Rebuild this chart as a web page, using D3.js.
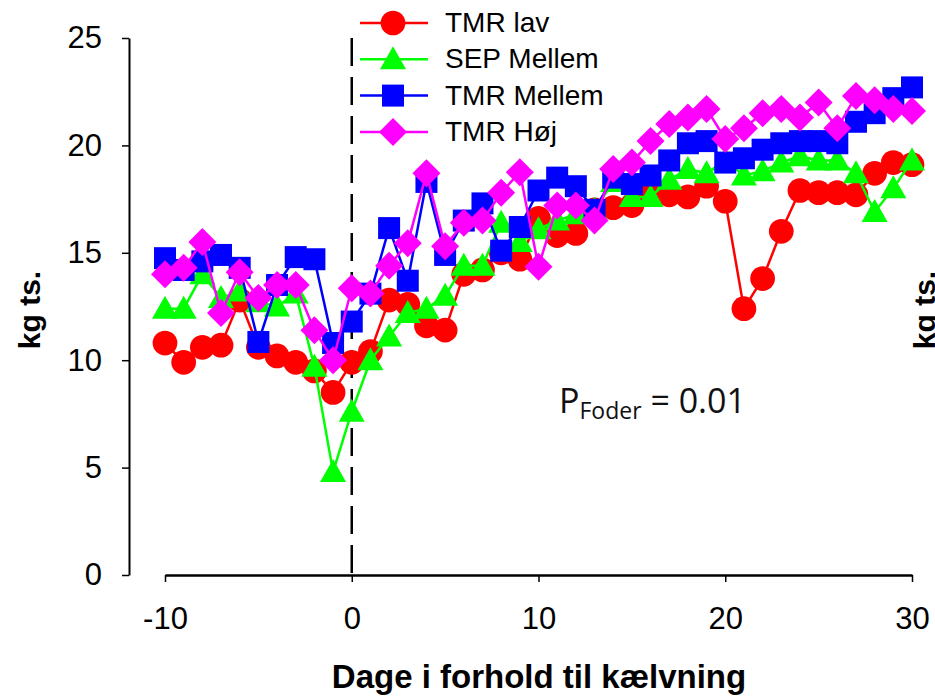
<!DOCTYPE html>
<html>
<head>
<meta charset="utf-8">
<script src="https://cdn.jsdelivr.net/npm/d3@7"></script>
<style>
  body { margin: 0; background: #fff; }
  svg { display: block; font-family: "Liberation Sans", Arial, sans-serif; }
  .axis path, .axis line { stroke: #000; }
</style>
</head>
<body>
<div id="chart"></div>
<script>
// days relative to calving
var days = d3.range(-10, 31);

var seriesNames = ["TMR lav", "SEP Mellem", "TMR Mellem", "TMR Høj"];
var seriesColors = ["#ff0000", "#00ff00", "#0000ff", "#ff00ff"];
var seriesMarkers = ["circle", "triangle", "square", "diamond"];

var tmrLav = [10.8, 9.9, 10.6, 10.7, 12.8, 10.6, 10.2, 9.9, 9.5, 8.5,
  9.9, 10.4, 12.8, 12.6, 11.6, 11.4, 14.0, 14.2, 15.0, 14.7,
  16.6, 15.8, 15.9, 17.0, 17.1, 17.2, 17.8, 17.7, 17.6, 18.1,
  17.4, 12.4, 13.8, 16.0, 17.9, 17.8, 17.8, 17.7, 18.7, 19.2, 19.1];

var sepMellem = [12.4, 12.4, 14.0, 12.9, 13.2, 12.7, 12.5, 13.1, 9.7, 4.8,
  7.6, 10.0, 11.1, 12.2, 12.4, 13.0, 14.4, 14.4, 16.4, 15.5,
  16.1, 16.5, 16.8, 17.0, 18.3, 17.6, 17.6, 18.4, 18.9, 18.7,
  19.3, 18.6, 18.8, 19.2, 19.5, 19.3, 19.3, 18.7, 16.9, 18.0, 19.3];

var tmrMellem = [14.75, 14.2, 14.6, 14.9, 14.3, 10.85, 13.5, 14.8, 14.7, 10.8,
  11.8, 13.1, 16.15, 13.7, 18.3, 14.9, 16.5, 17.3, 15.1, 16.2,
  17.9, 18.5, 18.1, 17.0, 18.5, 18.2, 18.6, 19.3, 20.1, 20.2,
  19.2, 19.4, 19.8, 20.1, 20.2, 20.2, 20.1, 21.1, 21.5, 22.2, 22.7];

var tmrHoej = [14.0, 14.3, 15.5, 12.2, 14.1, 12.9, 13.5, 13.5, 11.4, 10.0,
  13.35, 13.1, 14.4, 15.45, 18.7, 15.3, 16.4, 16.5, 17.8, 18.75,
  14.35, 17.2, 17.2, 16.5, 18.9, 19.2, 20.2, 21.0, 21.3, 21.7,
  20.3, 20.8, 21.5, 21.7, 21.3, 22.0, 20.8, 22.3, 22.1, 21.7, 21.6];

var xTicks = [-10, 0, 10, 20, 30];
var yTicks = [0, 5, 10, 15, 20, 25];

var width = 935, height = 696;

var svg = d3.select("#chart").append("svg")
    .attr("width", width)
    .attr("height", height);

var x = d3.scaleLinear().domain([-10, 30]).range([165, 912]);
var y = d3.scaleLinear().domain([0, 25]).range([575, 38]);

// y axis (offset to the left of the plot)
svg.append("g")
    .attr("class", "axis")
    .attr("transform", "translate(129,0)")
    .call(d3.axisLeft(y).tickValues(yTicks).tickFormat(String)
      .tickSize(7).tickSizeOuter(0).tickPadding(20))
    .call(function (g) {
      g.select(".domain").attr("stroke-width", 2);
      g.selectAll(".tick line").attr("stroke-width", 1.5);
      g.selectAll("text").attr("font-size", 31).attr("fill", "#000")
        .attr("font-family", "Liberation Sans, Arial, sans-serif");
    });

// x axis
svg.append("g")
    .attr("class", "axis")
    .attr("transform", "translate(0,575)")
    .call(d3.axisBottom(x).tickValues(xTicks).tickFormat(String)
      .tickSize(7).tickSizeOuter(0).tickPadding(25))
    .call(function (g) {
      g.select(".domain").attr("stroke-width", 2.5);
      g.selectAll(".tick line").attr("stroke-width", 1.5);
      g.selectAll("text").attr("font-size", 31).attr("fill", "#000")
        .attr("font-family", "Liberation Sans, Arial, sans-serif");
    });

// calving day marker
svg.append("line")
    .attr("x1", x(0)).attr("x2", x(0))
    .attr("y1", y(25)).attr("y2", y(0))
    .attr("stroke", "#000")
    .attr("stroke-width", 2.5)
    .attr("stroke-dasharray", "28,11");

function markerPath(type) {
  if (type === "circle") return d3.symbol(d3.symbolCircle, 480)();
  if (type === "square") return "M-11,-11H11V11H-11Z";
  if (type === "triangle") return "M0,-13L13,10H-13Z";
  return "M0,-14L14,0L0,14L-14,0Z";
}

var allSeries = [tmrLav, sepMellem, tmrMellem, tmrHoej];

var line = d3.line()
    .x(function (d, i) { return x(days[i]); })
    .y(function (d) { return y(d); });

allSeries.forEach(function (values, s) {
  var g = svg.append("g");
  g.append("path")
      .attr("d", line(values))
      .attr("fill", "none")
      .attr("stroke", seriesColors[s])
      .attr("stroke-width", 2.5);
  g.selectAll(".pt")
      .data(values)
      .enter().append("path")
      .attr("class", "pt")
      .attr("transform", function (d, i) { return "translate(" + x(days[i]) + "," + y(d) + ")"; })
      .attr("d", markerPath(seriesMarkers[s]))
      .attr("fill", seriesColors[s]);
});

// legend
var legend = svg.append("g");
seriesNames.forEach(function (name, i) {
  var ly = 23 + i * 36.3;
  legend.append("line")
      .attr("x1", 360).attr("x2", 428)
      .attr("y1", ly).attr("y2", ly)
      .attr("stroke", seriesColors[i])
      .attr("stroke-width", 2.5);
  legend.append("path")
      .attr("transform", "translate(393," + ly + ")")
      .attr("d", markerPath(seriesMarkers[i]))
      .attr("fill", seriesColors[i]);
  legend.append("text")
      .attr("x", 445)
      .attr("y", ly + 9)
      .attr("font-size", 28)
      .text(name);
});

// p-value annotation
var ptext = svg.append("text")
    .attr("x", 559)
    .attr("y", 413)
    .attr("font-family", "Open Sans, Noto Sans, sans-serif")
    .attr("fill", "#111");
ptext.append("tspan").attr("font-size", 34).text("P");
ptext.append("tspan").attr("font-size", 23).attr("dy", 6).text("Foder");
ptext.append("tspan").attr("font-size", 34).attr("dy", -6).text(" = 0.01");

// axis titles
svg.append("text")
    .attr("transform", "translate(40,310)rotate(-90)")
    .attr("text-anchor", "middle")
    .attr("font-weight", "bold")
    .attr("font-size", 30)
    .text("kg ts.");

svg.append("text")
    .attr("transform", "translate(935,310)rotate(-90)")
    .attr("text-anchor", "middle")
    .attr("font-weight", "bold")
    .attr("font-size", 30)
    .text("kg ts.");

svg.append("text")
    .attr("x", 539)
    .attr("y", 688)
    .attr("text-anchor", "middle")
    .attr("font-weight", "bold")
    .attr("font-size", 33)
    .text("Dage i forhold til kælvning");
</script>
</body>
</html>
